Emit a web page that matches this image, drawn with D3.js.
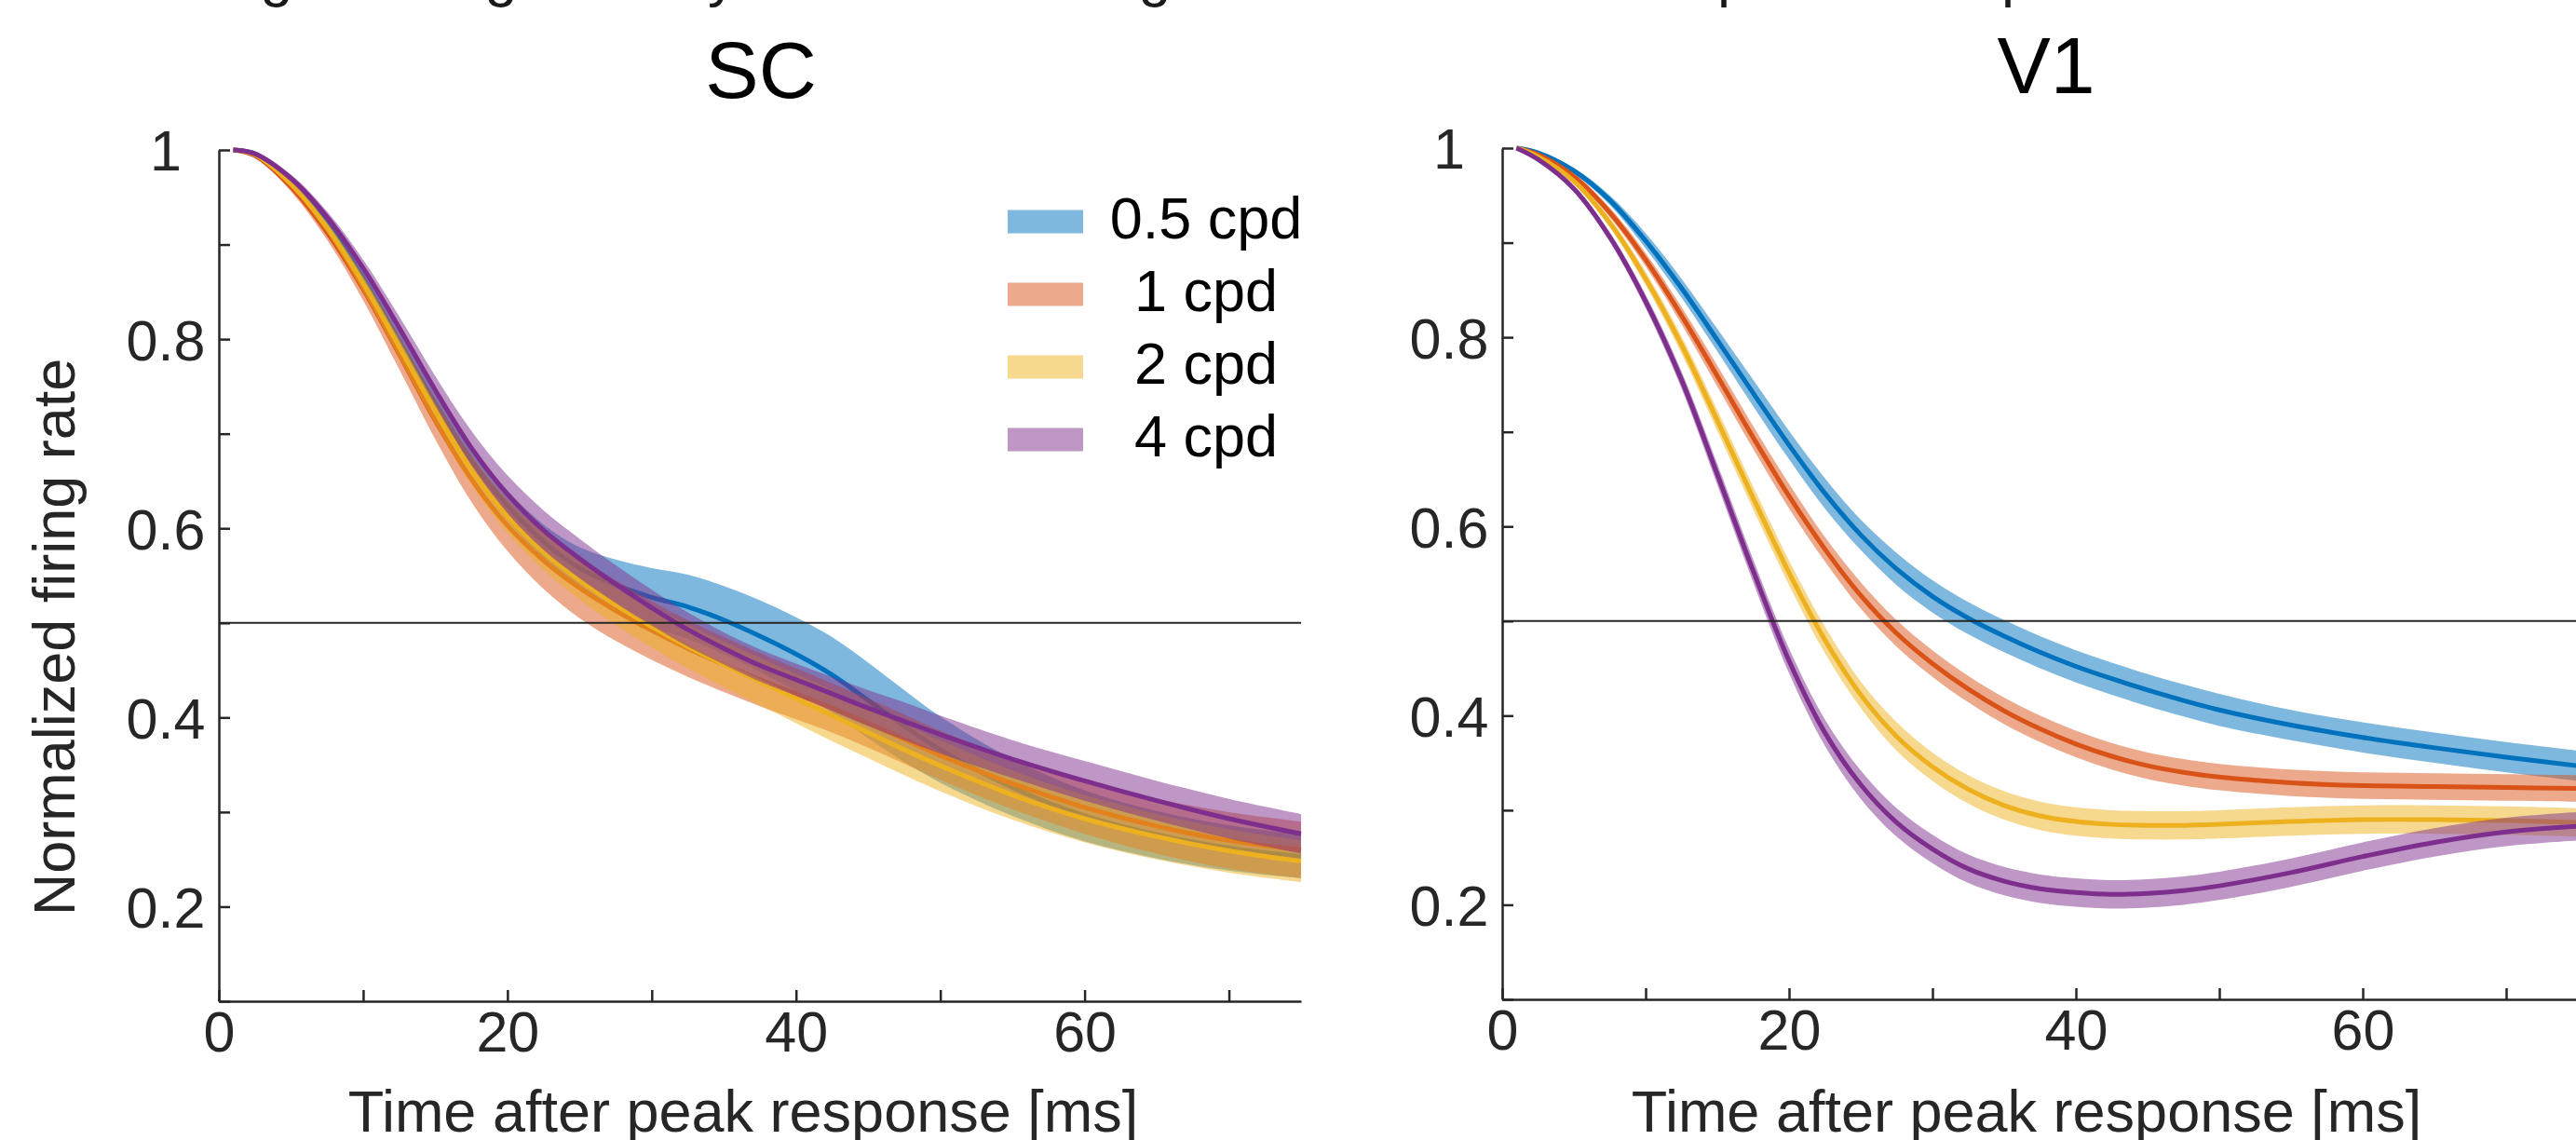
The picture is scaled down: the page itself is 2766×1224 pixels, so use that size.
<!DOCTYPE html>
<html>
<head>
<meta charset="utf-8">
<script src="https://cdn.jsdelivr.net/npm/d3@7"></script>
<style>
  body { margin: 0; background: #ffffff; }
  text { font-family: "Liberation Sans", Arial, Helvetica, sans-serif; }
</style>
</head>
<body>
<div id="chart"></div>
<script>
// time after peak response (ms)
var time_ms = [1, 2.5, 5, 7.5, 10, 12.5, 15, 17.5, 20, 22.5, 25, 27.5, 30, 32.5, 35, 37.5, 40, 42.5, 45, 47.5, 50, 55, 60, 65, 70, 75];

// SC, normalized firing rate (mean) and half width of shaded band
var sc_05 = [1.000, 0.996, 0.967, 0.922, 0.864, 0.798, 0.732, 0.672, 0.624, 0.586, 0.558, 0.540, 0.527, 0.517, 0.503, 0.486, 0.467, 0.445, 0.418, 0.391, 0.366, 0.326, 0.296, 0.276, 0.262, 0.253];
var sc_1 = [1.000, 0.994, 0.961, 0.913, 0.853, 0.784, 0.714, 0.652, 0.603, 0.566, 0.537, 0.513, 0.492, 0.473, 0.456, 0.440, 0.425, 0.410, 0.394, 0.377, 0.360, 0.330, 0.305, 0.285, 0.270, 0.260];
var sc_2 = [1.000, 0.995, 0.964, 0.918, 0.859, 0.792, 0.724, 0.662, 0.613, 0.575, 0.545, 0.519, 0.496, 0.475, 0.456, 0.438, 0.420, 0.402, 0.384, 0.366, 0.349, 0.318, 0.293, 0.274, 0.259, 0.248];
var sc_4 = [1.000, 0.996, 0.970, 0.929, 0.875, 0.812, 0.746, 0.685, 0.636, 0.598, 0.568, 0.541, 0.516, 0.493, 0.473, 0.455, 0.440, 0.425, 0.410, 0.396, 0.382, 0.356, 0.333, 0.312, 0.293, 0.277];

var sc_05_err = [0, 0.002, 0.004, 0.006, 0.008, 0.010, 0.012, 0.014, 0.016, 0.018, 0.022, 0.027, 0.031, 0.034, 0.036, 0.038, 0.039, 0.040, 0.040, 0.038, 0.035, 0.030, 0.027, 0.025, 0.024, 0.023];
var sc_1_err = [0, 0.002, 0.005, 0.008, 0.012, 0.016, 0.020, 0.024, 0.027, 0.030, 0.032, 0.032, 0.031, 0.030, 0.029, 0.028, 0.027, 0.026, 0.026, 0.026, 0.026, 0.027, 0.028, 0.029, 0.030, 0.030];
var sc_2_err = [0, 0.002, 0.004, 0.006, 0.009, 0.012, 0.014, 0.016, 0.018, 0.019, 0.020, 0.021, 0.022, 0.023, 0.024, 0.025, 0.026, 0.027, 0.027, 0.027, 0.027, 0.026, 0.025, 0.024, 0.023, 0.022];
var sc_4_err = [0, 0.002, 0.004, 0.006, 0.009, 0.012, 0.015, 0.018, 0.020, 0.021, 0.021, 0.020, 0.019, 0.018, 0.017, 0.017, 0.017, 0.018, 0.019, 0.020, 0.020, 0.020, 0.021, 0.021, 0.021, 0.021];

// V1
var v1_05 = [1.000, 0.995, 0.976, 0.945, 0.902, 0.852, 0.797, 0.741, 0.686, 0.635, 0.591, 0.555, 0.526, 0.503, 0.484, 0.467, 0.452, 0.439, 0.427, 0.416, 0.406, 0.390, 0.377, 0.366, 0.356, 0.347];
var v1_1 = [1.000, 0.993, 0.970, 0.932, 0.882, 0.823, 0.759, 0.694, 0.632, 0.576, 0.527, 0.487, 0.455, 0.428, 0.405, 0.386, 0.370, 0.357, 0.347, 0.340, 0.335, 0.329, 0.326, 0.325, 0.324, 0.323];
var v1_2 = [1.000, 0.991, 0.965, 0.921, 0.862, 0.792, 0.712, 0.630, 0.551, 0.480, 0.422, 0.378, 0.346, 0.322, 0.305, 0.294, 0.288, 0.285, 0.284, 0.284, 0.285, 0.288, 0.290, 0.290, 0.289, 0.287];
var v1_4 = [1.000, 0.988, 0.957, 0.906, 0.838, 0.755, 0.655, 0.553, 0.458, 0.382, 0.327, 0.287, 0.259, 0.238, 0.225, 0.217, 0.213, 0.211, 0.212, 0.215, 0.220, 0.234, 0.251, 0.266, 0.277, 0.283];

var v1_05_err = [0, 0.001, 0.003, 0.005, 0.008, 0.010, 0.012, 0.014, 0.015, 0.016, 0.016, 0.017, 0.017, 0.017, 0.017, 0.017, 0.017, 0.017, 0.017, 0.017, 0.017, 0.016, 0.016, 0.016, 0.016, 0.016];
var v1_1_err = [0, 0.001, 0.003, 0.005, 0.007, 0.009, 0.011, 0.012, 0.013, 0.013, 0.014, 0.014, 0.014, 0.014, 0.014, 0.014, 0.014, 0.014, 0.014, 0.014, 0.014, 0.014, 0.014, 0.014, 0.014, 0.014];
var v1_2_err = [0, 0.001, 0.003, 0.005, 0.007, 0.009, 0.011, 0.012, 0.013, 0.014, 0.014, 0.015, 0.015, 0.015, 0.015, 0.015, 0.015, 0.015, 0.015, 0.015, 0.015, 0.015, 0.015, 0.015, 0.015, 0.015];
var v1_4_err = [0, 0.001, 0.003, 0.005, 0.007, 0.009, 0.011, 0.012, 0.013, 0.014, 0.015, 0.015, 0.015, 0.015, 0.015, 0.015, 0.015, 0.015, 0.015, 0.015, 0.015, 0.015, 0.015, 0.015, 0.015, 0.015];

var series_names = ["0.5 cpd", "1 cpd", "2 cpd", "4 cpd"];
var series_colors = ["#0072BD", "#D95319", "#EDB120", "#7E2F8E"];

var x_ticks = [0, 10, 20, 30, 40, 50, 60, 70];
var x_tick_labels = [0, 20, 40, 60];
var y_ticks = [0.1, 0.2, 0.3, 0.4, 0.5, 0.6, 0.7, 0.8, 0.9, 1];
var y_tick_labels = [0.2, 0.4, 0.6, 0.8, 1];
var x_domain = [0, 75];
var y_domain = [0.1, 1];
var half_level = 0.5;

// bottoms of a cut-off text line above the figure
var cut_glyphs = ["g", "g", "y", "g", "p", "p"];
var cut_glyph_x = [297, 538, 760, 1240, 1844, 2149];
var cut_glyph_anchor = ["middle", "middle", "start", "middle", "start", "start"];

var width = 2766;
var height = 1224;
var axis_color = "#262626";

var svg = d3
  .select("#chart")
  .append("svg")
  .attr("width", width)
  .attr("height", height)
  .style("display", "block");

svg
  .append("rect")
  .attr("width", width)
  .attr("height", height)
  .attr("fill", "#ffffff");

var panels = [
  {
    title: "SC",
    left: 235,
    right: 1397,
    top: 161,
    bottom: 1075,
    title_x: 817,
    title_y: 105,
    means: [sc_05, sc_1, sc_2, sc_4],
    errs: [sc_05_err, sc_1_err, sc_2_err, sc_4_err],
    ylabel: true,
    legend: true
  },
  {
    title: "V1",
    left: 1613,
    right: 2768,
    top: 159,
    bottom: 1073,
    title_x: 2197,
    title_y: 100,
    means: [v1_05, v1_1, v1_2, v1_4],
    errs: [v1_05_err, v1_1_err, v1_2_err, v1_4_err],
    ylabel: false,
    legend: false
  }
];

svg
  .selectAll(".cutglyph")
  .data(cut_glyphs)
  .enter()
  .append("text")
  .attr("class", "cutglyph")
  .attr("x", function(d, i) {
    return cut_glyph_x[i];
  })
  .attr("y", -5)
  .attr("text-anchor", function(d, i) {
    return cut_glyph_anchor[i];
  })
  .attr("font-size", "63px")
  .attr("fill", "#1a1a1a")
  .text(function(d) {
    return d;
  });

panels.forEach(function(p) {
  var x = d3.scaleLinear().domain(x_domain).range([p.left, p.right]);
  var y = d3.scaleLinear().domain(y_domain).range([p.bottom, p.top]);
  var g = svg.append("g");

  for (var i = 0; i < series_names.length; i++) {
    var rows = time_ms.map(function(t, k) {
      return { t: t, m: p.means[i][k], e: p.errs[i][k] };
    });

    var band = d3
      .area()
      .curve(d3.curveCatmullRom.alpha(0.5))
      .x(function(d) {
        return x(d.t);
      })
      .y0(function(d) {
        return y(d.m - d.e);
      })
      .y1(function(d) {
        return y(d.m + d.e);
      });

    var line = d3
      .line()
      .curve(d3.curveCatmullRom.alpha(0.5))
      .x(function(d) {
        return x(d.t);
      })
      .y(function(d) {
        return y(d.m);
      });

    g.append("path")
      .datum(rows)
      .attr("d", band)
      .attr("fill", series_colors[i])
      .attr("fill-opacity", 0.5)
      .attr("stroke", "none");

    g.append("path")
      .datum(rows)
      .attr("d", line)
      .attr("fill", "none")
      .attr("stroke", series_colors[i])
      .attr("stroke-width", 5)
      .attr("stroke-linejoin", "round");
  }

  // line at half of the peak
  g.append("line")
    .attr("x1", x(x_domain[0]))
    .attr("x2", x(x_domain[1]))
    .attr("y1", y(half_level))
    .attr("y2", y(half_level))
    .attr("stroke", axis_color)
    .attr("stroke-width", 2);

  var xAxis = d3
    .axisBottom(x)
    .tickValues(x_ticks)
    .tickSizeInner(-12)
    .tickSizeOuter(0)
    .tickFormat(function(d) {
      return x_tick_labels.indexOf(d) >= 0 ? d : "";
    });

  var yAxis = d3
    .axisLeft(y)
    .tickValues(y_ticks)
    .tickSizeInner(-12)
    .tickSizeOuter(0)
    .tickFormat(function(d) {
      return y_tick_labels.indexOf(d) >= 0 ? d3.format("~g")(d) : "";
    });

  var gx = g
    .append("g")
    .attr("transform", "translate(0," + p.bottom + ")")
    .call(xAxis);

  var gy = g
    .append("g")
    .attr("transform", "translate(" + p.left + ",0)")
    .call(yAxis);

  [gx, gy].forEach(function(ax) {
    ax.select(".domain").attr("stroke", axis_color).attr("stroke-width", 2.5);
    ax.selectAll(".tick line").attr("stroke", axis_color).attr("stroke-width", 2.5);
    ax.selectAll(".tick text")
      .attr("fill", axis_color)
      .attr("font-size", "61px")
      .attr("font-family", '"Liberation Sans", Arial, sans-serif');
  });

  gx.selectAll(".tick text").attr("y", 54).attr("dy", 0);
  gy.selectAll(".tick text")
    .attr("x", -57)
    .attr("dy", "0.36em")
    .attr("text-anchor", "middle");

  g.append("text")
    .attr("x", p.left + 563)
    .attr("y", 1215)
    .attr("text-anchor", "middle")
    .attr("font-size", "63px")
    .attr("fill", axis_color)
    .text("Time after peak response [ms]");

  g.append("text")
    .attr("x", p.title_x)
    .attr("y", p.title_y)
    .attr("text-anchor", "middle")
    .attr("font-size", "86px")
    .attr("fill", "#000000")
    .text(p.title);

  if (p.ylabel) {
    g.append("text")
      .attr("transform", "translate(80,684) rotate(-90)")
      .attr("text-anchor", "middle")
      .attr("font-size", "63px")
      .attr("fill", axis_color)
      .text("Normalized firing rate");
  }

  if (p.legend) {
    var leg = g
      .selectAll(".legend")
      .data(series_names)
      .enter()
      .append("g")
      .attr("class", "legend")
      .attr("transform", function(d, i) {
        return "translate(0," + (238 + i * 78) + ")";
      });

    leg
      .append("rect")
      .attr("x", 1082)
      .attr("y", -12.5)
      .attr("width", 81)
      .attr("height", 25)
      .attr("fill", function(d, i) {
        return series_colors[i];
      })
      .attr("fill-opacity", 0.5);

    leg
      .append("text")
      .attr("x", 1295)
      .attr("y", 18)
      .attr("text-anchor", "middle")
      .attr("font-size", "63px")
      .attr("fill", "#000000")
      .text(function(d) {
        return d;
      });
  }
});
</script>
</body>
</html>
